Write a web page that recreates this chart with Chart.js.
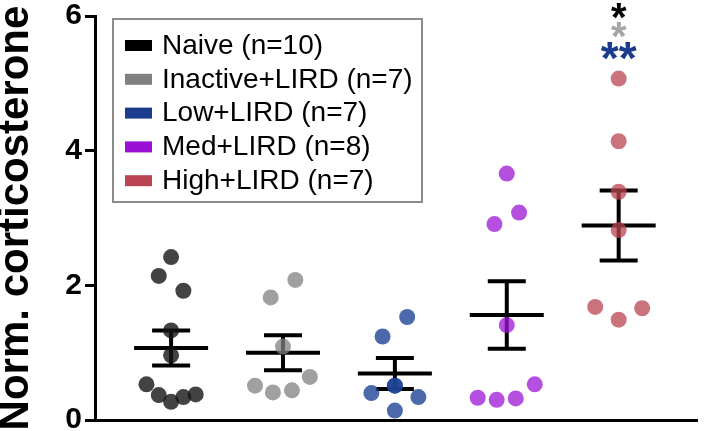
<!DOCTYPE html>
<html>
<head>
<meta charset="utf-8">
<script src="https://cdn.jsdelivr.net/npm/chart.js@4.4.1/dist/chart.umd.min.js"></script>
<style>
  html, body { margin: 0; padding: 0; background: #fff; }
  #wrap { width: 705px; height: 431px; position: relative; }
</style>
</head>
<body>
<div id="wrap"><canvas id="chart"></canvas></div>
<script>
// --- data ---
const groupNames = ['Naive (n=10)', 'Inactive+LIRD (n=7)', 'Low+LIRD (n=7)', 'Med+LIRD (n=8)', 'High+LIRD (n=7)'];

const naiveValues    = [2.42, 2.14, 1.92, 1.33, 0.96, 0.53, 0.37, 0.27, 0.34, 0.38];
const naiveJitter    = [0, -0.11, 0.11, 0, 0, -0.22, -0.11, 0, 0.11, 0.22];
const inactiveValues = [2.08, 1.82, 1.09, 0.64, 0.51, 0.41, 0.44];
const inactiveJitter = [0.11, -0.11, 0, 0.24, -0.25, -0.09, 0.08];
const lowValues      = [1.53, 1.24, 0.51, 0.40, 0.34, 0.14, 0.51];
const lowJitter      = [0.11, -0.11, 0, -0.21, 0.21, 0, 0];
const medValues      = [3.66, 3.08, 2.91, 1.41, 0.33, 0.30, 0.32, 0.53];
const medJitter      = [0, 0.11, -0.11, 0, -0.26, -0.09, 0.08, 0.25];
const highValues     = [5.07, 4.14, 3.39, 2.82, 1.68, 1.66, 1.49];
const highJitter     = [0, 0, 0, 0, -0.21, 0.21, 0];

const groupMeans = [1.07, 1.00, 0.69, 1.56, 2.89];
const groupSem   = [0.26, 0.26, 0.23, 0.50, 0.52];

const yTicks = [0, 2, 4, 6];

const legendColors = ['#000000', '#808080', '#1b3c8c', '#9a10d6', '#b94452'];
const pointColors  = ['rgba(20,20,20,0.8)', 'rgba(128,128,128,0.75)', 'rgba(30,68,150,0.8)',
                      'rgba(155,20,214,0.75)', 'rgba(185,68,82,0.75)'];

// significance marks above the High group
const starTexts  = ['*', '*', '**'];
const starColors = ['#000000', '#a6a6a6', '#1b3c8c'];

const FONT = "'Liberation Sans', Arial, Helvetica, sans-serif";

const allValues = [naiveValues, inactiveValues, lowValues, medValues, highValues];
const allJitter = [naiveJitter, inactiveJitter, lowJitter, medJitter, highJitter];

const datasets = allValues.map((vals, g) => ({
    label: groupNames[g],
    data: vals.map((v, i) => ({ x: g + 1 + allJitter[g][i], y: v })),
    backgroundColor: pointColors[g],
    borderWidth: 0,
    pointRadius: 8,
    pointHoverRadius: 8
}));

// mean +/- SEM bars, drawn under the points
const errorBars = {
    id: 'errorBars',
    beforeDatasetsDraw(chart) {
        const { ctx, scales: { x, y } } = chart;
        ctx.save();
        ctx.strokeStyle = '#000';
        ctx.lineWidth = 4;
        groupMeans.forEach((m, i) => {
            const cx = x.getPixelForValue(i + 1);
            const yMean = y.getPixelForValue(m);
            const yHi = y.getPixelForValue(m + groupSem[i]);
            const yLo = y.getPixelForValue(m - groupSem[i]);
            ctx.beginPath();
            ctx.moveTo(cx - 37, yMean); ctx.lineTo(cx + 37, yMean);
            ctx.moveTo(cx, yHi); ctx.lineTo(cx, yLo);
            ctx.moveTo(cx - 19, yHi); ctx.lineTo(cx + 19, yHi);
            ctx.moveTo(cx - 19, yLo); ctx.lineTo(cx + 19, yLo);
            ctx.stroke();
        });
        ctx.restore();
    }
};

// boxed legend in the upper left + asterisks
const extras = {
    id: 'extras',
    afterDraw(chart) {
        const { ctx, scales: { x, y } } = chart;
        ctx.save();
        ctx.strokeStyle = '#8c8c8c';
        ctx.lineWidth = 2;
        ctx.strokeRect(113, 19, 309, 183);
        ctx.font = `28px ${FONT}`;
        ctx.textBaseline = 'middle';
        ctx.textAlign = 'left';
        groupNames.forEach((name, i) => {
            const cy = 45 + i * 33.8;
            ctx.fillStyle = legendColors[i];
            ctx.fillRect(125, cy - 5, 27, 11);
            ctx.fillStyle = '#000';
            ctx.fillText(name, 162, cy + 1);
        });

        ctx.textAlign = 'center';
        ctx.textBaseline = 'alphabetic';
        const sx = x.getPixelForValue(5);
        const top = y.getPixelForValue(6);
        const sizes = [40, 40, 46];
        const offs = [15, 34, 58];
        starTexts.forEach((s, i) => {
            ctx.font = `bold ${sizes[i]}px ${FONT}`;
            ctx.fillStyle = starColors[i];
            ctx.fillText(s, sx, top + offs[i]);
        });
        ctx.restore();
    }
};

new Chart(document.getElementById('chart'), {
    type: 'scatter',
    data: { datasets },
    plugins: [errorBars, extras],
    options: {
        responsive: true,
        maintainAspectRatio: false,
        animation: false,
        layout: { padding: { top: 16, bottom: 11, left: 0, right: 0 } },
        plugins: {
            legend: { display: false },
            tooltip: { enabled: false }
        },
        scales: {
            x: {
                type: 'linear',
                min: 0.32,
                max: 5.7,
                ticks: { display: false },
                grid: { display: false },
                border: { display: true, color: '#000', width: 3 },
                afterFit(s) { s.height = 0; }
            },
            y: {
                min: 0,
                max: 6,
                afterBuildTicks(s) { s.ticks = yTicks.map(v => ({ value: v })); },
                ticks: {
                    color: '#000',
                    padding: 3,
                    font: { family: FONT, size: 30, weight: 'bold', lineHeight: 1 }
                },
                grid: { drawOnChartArea: false, drawTicks: true, tickLength: 10, color: '#000', lineWidth: 3 },
                border: { display: true, color: '#000', width: 3 },
                title: {
                    display: true,
                    text: 'Norm. corticosterone',
                    color: '#000',
                    padding: 0,
                    font: { family: FONT, size: 42, weight: 'bold', lineHeight: 0.8 }
                },
                afterFit(s) {
                    s.width = 95;
                    s.paddingTop = 0;
                    s.paddingBottom = 0;
                }
            }
        }
    }
});
</script>
</body>
</html>
